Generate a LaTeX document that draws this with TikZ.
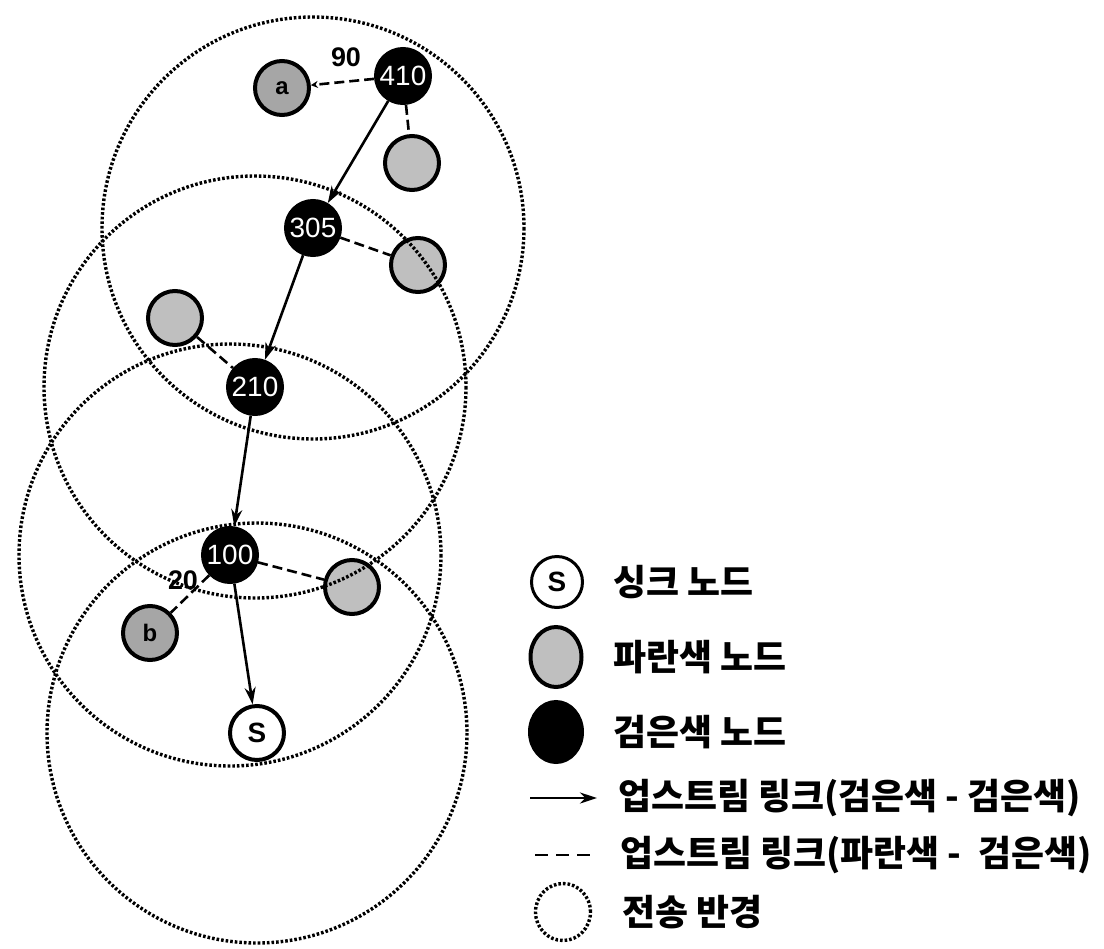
\documentclass[tikz,border=0pt]{standalone}
\usepackage{fontspec}
\setmainfont{Liberation Sans}
\newfontfamily\krfont{Noto Sans CJK KR}
\usetikzlibrary{arrows.meta,shapes.geometric}

\tikzset{
  nd/.style={circle, minimum size=54bp, inner sep=0pt, line width=4bp, draw=black},
  blacknd/.style={nd, fill=black, text=white, font=\fontsize{28}{28}\selectfont},
  bluend/.style={nd, fill=black!25},
  lettered/.style={nd, fill=black!35, font=\bfseries\fontsize{24}{24}\selectfont},
  sinknd/.style={nd, fill=white, font=\bfseries\fontsize{28}{28}\selectfont},
  bblink/.style={line width=2.6bp, -{Stealth[length=17bp,width=11bp]}},
  gblink/.style={line width=2.6bp, dash pattern=on 10bp off 5bp},
  txrange/.style={line width=3.4bp, dash pattern=on 2.6bp off 2bp},
  weight/.style={font=\bfseries\fontsize{27}{27}\selectfont, inner sep=0pt},
  legtext/.style={anchor=west, font=\krfont\bfseries\fontsize{36}{36}\selectfont, inner sep=0pt},
}

\begin{document}
\begin{tikzpicture}[x=1bp,y=-1bp]
\useasboundingbox (0,0) rectangle (1104,949);

% network nodes
\node[blacknd] (n410) at (403,76) {410};
\node[lettered] (a) at (282,88) {a};
\node[bluend] (g1) at (412,163) {};
\node[blacknd] (n305) at (313,228) {305};
\node[bluend] (g2) at (418,265) {};
\node[bluend] (g3) at (175,318) {};
\node[blacknd] (n210) at (255,387) {210};
\node[blacknd] (n100) at (230,555) {100};
\node[bluend] (g4) at (352,587) {};
\node[lettered] (b) at (150,633) {b};
\node[sinknd] (s) at (257,733) {S};

% upstream links between black nodes
\draw[bblink] (n410) -- (n305);
\draw[bblink] (n305) -- (n210);
\draw[bblink] (n210) -- (n100);
\draw[bblink] (n100) -- (s);

% upstream links between blue and black nodes
\draw[gblink, -{Stealth[length=7bp,width=7bp]}] (n410) -- (a);
\draw[gblink] (n410) -- (g1);
\draw[gblink] (n305) -- (g2);
\draw[gblink] (g3) -- (n210);
\draw[gblink] (n100) -- (g4);
\draw[gblink] (n100) -- (b);

% link weights
\node[weight] (w90) at (346,57) {90};
\node[weight] (w20) at (183,580) {20};

% transmission ranges
\draw[txrange] (n305.center) circle[radius=211];
\draw[txrange] (n210.center) circle[radius=211];
\draw[txrange] (n100.center) circle[radius=211];
\draw[txrange] (s.center) circle[radius=210];

% legend
\node[sinknd, minimum size=51bp, line width=3bp] (ls) at (557,582) {S};
\node[legtext] (lt1) at (613,582) {싱크 노드};
\node[nd, ellipse, minimum width=51bp, minimum height=60bp, fill=black!25] (lg) at (556,657) {};
\node[legtext] (lt2) at (613,657) {파란색 노드};
\node[nd, ellipse, minimum width=52bp, minimum height=60bp, fill=black] (lb) at (556,732) {};
\node[legtext] (lt3) at (613,732) {검은색 노드};
\coordinate (la1) at (530,798);
\coordinate (la2) at (597,798);
\draw[bblink] (la1) -- (la2);
\node[legtext] (lt4) at (618,798) {업스트림 링크(검은색 - 검은색)};
\coordinate (ld1) at (535,855);
\coordinate (ld2) at (590,855);
\draw[line width=2.6bp, dash pattern=on 13bp off 8bp] (ld1) -- (ld2);
\node[legtext] (lt5) at (620,855) {업스트림 링크(파란색 -\ \ 검은색)};
\node[draw, ellipse, minimum width=55bp, minimum height=57bp, txrange] (lr) at (563,912) {};
\node[legtext] (lt6) at (622,912) {전송 반경};
\end{tikzpicture}
\end{document}
